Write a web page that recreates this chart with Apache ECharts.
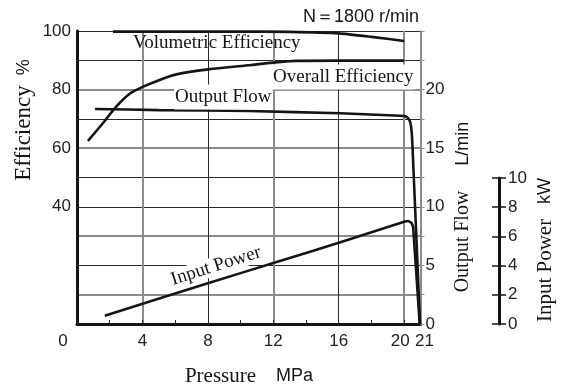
<!DOCTYPE html>
<html><head><meta charset="utf-8">
<script src="https://cdn.jsdelivr.net/npm/echarts@6/dist/echarts.min.js"></script>
<style>html,body{margin:0;padding:0;background:#fff}#c{width:563px;height:388px}</style>
</head><body><div id="c"></div>
<script>
// ---- data ----
const pressureTickLabels = [0, 4, 8, 12, 16, 20, 21];
const efficiencyTickLabels = [40, 60, 80, 100];
const flowTickLabels = [0, 5, 10, 15, 20];
const powerTickLabels = [0, 2, 4, 6, 8, 10];

const volumetricPressure = [2.2, 6, 10, 13, 16, 18, 20];
const volumetricEfficiency = [99.8, 99.8, 99.8, 99.7, 99.2, 98.0, 96.6];

const overallPressure = [0.67, 1.58, 2.4, 3.2, 4.05, 5.05, 6.07, 8, 10.5, 12, 13.4, 16, 20];
const overallEfficiency = [62.5, 68.5, 74.2, 78.5, 81, 83.3, 85.2, 86.9, 88.3, 89.2, 89.8, 89.9, 89.9];

const flowPressure = [1.1, 5, 10.5, 16.1, 19.75, 20.1, 20.3, 20.42, 20.5, 20.97];
const flowLmin = [18.35, 18.25, 18.17, 17.98, 17.77, 17.7, 17.45, 16.9, 15.5, 0];

const powerPressure = [1.7, 8, 12.4, 16.1, 20, 20.24, 20.45, 20.55, 20.95];
const powerKW = [0.57, 2.78, 4.3, 5.58, 6.98, 7.03, 6.9, 6.6, 0];

// ---- styling ----
const SERIF = '"Liberation Serif","Times New Roman",serif';
const SANS = '"Liberation Sans",Arial,Helvetica,sans-serif';
const INK = '#151515';
const GRAY = '#8c8c8c';
const DARK = '#2a2a2a';
const T = 'rgba(0,0,0,0)';
const zip = (a, b) => a.map((v, i) => [v, b[i]]);

const chart = echarts.init(document.getElementById('c'), null, {renderer: 'canvas'});

const lineStyle = {color: INK, width: 2.6};
function lineSeries(name, xs, ys, yIdx, smooth) {
  return {
    name, type: 'line', xAxisIndex: 0, yAxisIndex: yIdx, data: zip(xs, ys),
    symbol: 'none', smooth: smooth || false, clip: false, lineStyle, z: 5, silent: true
  };
}

const option = {
  animation: false,
  backgroundColor: '#fff',
  grid: [
    {left: 77, top: 31, right: 142.5, bottom: 64, outerBoundsMode: 'none'},
    {left: 492, top: 178, width: 14, height: 146, outerBoundsMode: 'none'}
  ],
  xAxis: [
    {
      gridIndex: 0, type: 'value', min: 0, max: 21, interval: 4, position: 'bottom',
      axisLine: {show: true, onZero: false, lineStyle: {color: INK, width: 3}},
      axisTick: {show: false},
      axisLabel: {
        show: true, showMaxLabel: true, showMinLabel: true, margin: 9, fontSize: 17, fontFamily: SANS, color: '#222',
        formatter: function (v) {
          if (!pressureTickLabels.includes(v)) return '';
          if (v === 0) return '{z|0}';
          if (v === 20) return '{t|20}';
          if (v === 21) return '{o|21}';
          return String(v);
        },
        rich: {
          z: {fontSize: 17, fontFamily: SANS, color: '#222', padding: [0, 28, 0, 0]},
          t: {fontSize: 17, fontFamily: SANS, color: '#222', padding: [0, 8, 0, 0]},
          o: {fontSize: 17, fontFamily: SANS, color: '#222', padding: [0, 0, 0, 8]}
        }
      },
      splitLine: {show: true, lineStyle: {width: 2, color: [T, GRAY, T, GRAY, T, GRAY, GRAY]}}
    },
    {
      gridIndex: 0, type: 'value', min: 0, max: 21, interval: 2, position: 'bottom',
      axisLine: {show: false, onZero: false},
      axisTick: {show: true, inside: true, length: 4, lineStyle: {color: DARK, width: 1}},
      axisLabel: {show: false},
      splitLine: {show: true, lineStyle: {width: 1, color: [T, T, T, T, DARK, T, T, T, DARK, T, T, T]}}
    },
    {gridIndex: 1, type: 'value', min: 0, max: 1, show: false}
  ],
  yAxis: [
    {
      gridIndex: 0, type: 'value', min: 0, max: 100, interval: 10, position: 'left',
      axisLine: {show: true, onZero: false, lineStyle: {color: INK, width: 3}},
      axisTick: {show: false},
      axisLabel: {
        margin: 6, fontSize: 17, fontFamily: SANS, color: '#222',
        formatter: v => efficiencyTickLabels.includes(v) ? String(v) : ''
      },
      splitLine: {show: true, lineStyle: {width: 2, color: [T, GRAY, T, GRAY, T, T, GRAY, T, GRAY, T, T]}}
    },
    {
      gridIndex: 0, type: 'value', min: 0, max: 25, interval: 2.5, position: 'right',
      axisLine: {show: true, onZero: false, lineStyle: {color: GRAY, width: 1.5}},
      axisTick: {show: true, length: 4, lineStyle: {color: GRAY, width: 1}},
      axisLabel: {
        margin: 5, fontSize: 17, fontFamily: SANS, color: '#222',
        formatter: v => flowTickLabels.includes(v) ? String(v) : ''
      },
      splitLine: {show: true, lineStyle: {width: 1, color: [T, T, DARK, T, DARK, DARK, T, DARK, T, DARK, DARK]}}
    },
    {gridIndex: 0, type: 'value', min: 0, max: 20, show: false},
    {
      gridIndex: 1, type: 'value', min: 0, max: 10, interval: 2, position: 'right', offset: -7,
      axisLine: {show: true, onZero: false, lineStyle: {color: INK, width: 3}},
      axisTick: {show: false},
      axisLabel: {
        margin: 9, fontSize: 17, fontFamily: SANS, color: '#222',
        formatter: v => powerTickLabels.includes(v) ? String(v) : ''
      },
      splitLine: {show: true, lineStyle: {color: INK, width: 1.5}}
    }
  ],
  series: [
    lineSeries('Volumetric Efficiency', volumetricPressure, volumetricEfficiency, 0, 0.2),
    lineSeries('Overall Efficiency', overallPressure, overallEfficiency, 0, 0.35),
    lineSeries('Output Flow', flowPressure, flowLmin, 1, 0.15),
    lineSeries('Input Power', powerPressure, powerKW, 2, 0.1)
  ],
  graphic: [
    {type: 'text', x: 419, y: 17, z: 20, style: {text: 'N\uFF1D1800 r/min', fontSize: 18, fontFamily: SANS, fill: INK, align: 'right', verticalAlign: 'middle', textAlign: 'right', textVerticalAlign: 'middle'}},
    {type: 'text', x: 133, y: 43, z: 20, style: {text: 'Volumetric Efficiency', fontSize: 19, fontFamily: SERIF, fill: INK, align: 'left', verticalAlign: 'middle', textAlign: 'left', textVerticalAlign: 'middle'}},
    {type: 'text', x: 272, y: 77, z: 20, style: {text: 'Overall Efficiency', fontSize: 19, fontFamily: SERIF, fill: INK, backgroundColor: '#fff', padding: [3, 1, 3, 1], align: 'left', verticalAlign: 'middle', textAlign: 'left', textVerticalAlign: 'middle'}},
    {type: 'text', x: 174, y: 97, z: 20, style: {text: 'Output Flow', fontSize: 19, fontFamily: SERIF, fill: INK, backgroundColor: '#fff', padding: [3, 1, 3, 1], align: 'left', verticalAlign: 'middle', textAlign: 'left', textVerticalAlign: 'middle'}},
    {type: 'text', x: 216, y: 266, rotation: 0.31, z: 20, style: {text: 'Input Power', fontSize: 19, fontFamily: SERIF, fill: INK, backgroundColor: '#fff', padding: [0, 1, 0, 1], align: 'center', verticalAlign: 'middle', textAlign: 'center', textVerticalAlign: 'middle'}},
    {type: 'text', x: 24, y: 120, rotation: Math.PI / 2, z: 20, style: {
      text: '{a|Efficiency}{b|  %}', align: 'center', verticalAlign: 'middle', textAlign: 'center', textVerticalAlign: 'middle',
      rich: {a: {fontSize: 23, fontFamily: SERIF, fill: INK}, b: {fontSize: 18, fontFamily: SANS, fill: INK}}}},
    {type: 'text', x: 463, y: 207, rotation: Math.PI / 2, z: 20, style: {
      text: '{a|Output Flow}{b|     L/min}', align: 'center', verticalAlign: 'middle', textAlign: 'center', textVerticalAlign: 'middle',
      rich: {a: {fontSize: 20, fontFamily: SERIF, fill: INK}, b: {fontSize: 18, fontFamily: SANS, fill: INK}}}},
    {type: 'text', x: 545, y: 250, rotation: Math.PI / 2, z: 20, style: {
      text: '{a|Input Power}{b|   kW}', align: 'center', verticalAlign: 'middle', textAlign: 'center', textVerticalAlign: 'middle',
      rich: {a: {fontSize: 21, fontFamily: SERIF, fill: INK}, b: {fontSize: 18, fontFamily: SANS, fill: INK}}}},
    {type: 'text', x: 249, y: 376, z: 20, style: {
      text: '{a|Pressure}{b|    MPa}', align: 'center', verticalAlign: 'middle', textAlign: 'center', textVerticalAlign: 'middle',
      rich: {a: {fontSize: 21, fontFamily: SERIF, fill: INK}, b: {fontSize: 18, fontFamily: SANS, fill: INK}}}}
  ]
};
chart.setOption(option);
</script></body></html>
